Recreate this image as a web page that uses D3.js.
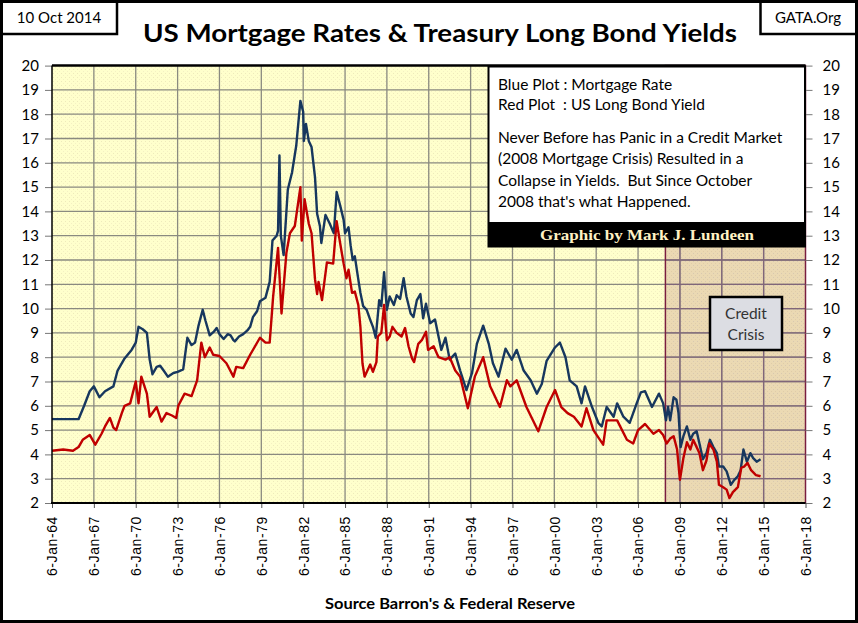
<!DOCTYPE html>
<html><head><meta charset="utf-8">
<script src="https://cdn.jsdelivr.net/npm/d3@7"></script>
<style>html,body{margin:0;padding:0;background:#fff;}svg{display:block;}</style>
</head><body><svg id="c" width="858" height="623"></svg>
<script>
const titleText = "US Mortgage Rates & Treasury Long Bond Yields";
const dateText = "10 Oct 2014";
const siteText = "GATA.Org";
const sourceText = "Source Barron's & Federal Reserve";
const legendLines1 = ["Blue Plot : Mortgage Rate", "Red Plot  : US Long Bond Yield"];
const legendLines2 = ["Never Before has Panic in a Credit Market", "(2008 Mortgage Crisis) Resulted in a", "Collapse in Yields.  But Since October", "2008 that's what Happened."];
const creditText = ["Credit", "Crisis"];
const yTicks = d3.range(2, 21, 1);
const xTickYears = d3.range(1964, 2019, 3);
const crisisStartYear = 2007.96;

const mortgageYears = [1964.0,1965.9,1966.3,1966.7,1967.0,1967.4,1967.8,1968.4,1968.7,1969.2,1969.7,1970.0,1970.2,1970.5,1970.8,1971.0,1971.2,1971.5,1971.75,1972.0,1972.3,1972.7,1973.0,1973.4,1973.7,1974.0,1974.25,1974.5,1974.8,1975.0,1975.3,1975.6,1975.8,1976.0,1976.3,1976.6,1976.8,1977.0,1977.1,1977.4,1977.7,1978.0,1978.2,1978.4,1978.7,1978.9,1979.3,1979.6,1979.8,1980.1,1980.2,1980.3,1980.4,1980.6,1980.9,1981.2,1981.5,1981.8,1982.0,1982.05,1982.2,1982.4,1982.6,1982.85,1983.0,1983.2,1983.3,1983.6,1983.9,1984.2,1984.4,
  1984.65,1984.9,1985.0,1985.25,1985.4,1985.55,1985.7,1985.95,1986.1,1986.3,1986.55,1986.8,1987.0,1987.2,1987.45,1987.6,1987.8,1988.0,1988.2,1988.5,1988.7,1988.95,1989.2,1989.4,1989.7,1989.9,1990.15,1990.4,1990.6,1990.8,1991.1,1991.45,1991.7,1991.9,1992.2,1992.5,1992.9,1993.25,
  1993.7,1994.1,1994.45,1994.9,1995.3,1995.6,1996.0,1996.5,1996.95,1997.3,1997.8,1998.3,1998.75,1999.1,1999.45,2000.05,2000.4,2000.8,2001.1,2001.6,2001.95,2002.2,2002.7,2003.15,2003.4,2003.75,2004.25,2004.5,2004.95,2005.4,2005.9,2006.2,2006.5,2007.0,
  2007.5,2007.8,2008.0,2008.15,2008.3,2008.55,2008.75,2008.9,2009.05,2009.25,2009.5,2009.75,2009.95,2010.2,2010.4,2010.65,2010.9,2011.15,2011.4,2011.65,2011.8,2012.1,2012.35,2012.65,2012.9,2013.15,2013.35,2013.55,2013.8,2014.05,2014.25,2014.5,2014.78];
const mortgageRates = [5.45,5.45,6.0,6.6,6.8,6.35,6.6,6.8,7.45,7.95,8.3,8.6,9.25,9.15,9.0,7.9,7.3,7.6,7.65,7.45,7.2,7.35,7.4,7.5,8.8,8.5,8.6,9.3,9.95,9.5,8.9,9.05,9.2,8.95,8.75,8.95,8.9,8.7,8.65,8.85,8.95,9.1,9.25,9.65,9.9,10.3,10.45,11.1,12.8,13.0,13.2,16.3,13.0,12.2,14.9,15.6,16.7,18.55,18.1,16.9,17.6,16.9,16.65,15.4,13.9,13.4,12.7,13.85,13.5,13.1,14.8,
  14.25,13.65,13.1,13.35,12.6,12.0,12.15,11.2,10.65,10.1,9.95,9.55,9.25,8.8,10.35,10.1,11.5,9.95,10.5,10.15,10.55,10.4,11.25,10.5,9.8,9.65,10.35,10.6,9.6,10.2,9.4,9.55,8.85,8.3,8.8,7.9,8.15,7.45,
  6.65,7.35,8.55,9.3,8.55,7.75,7.2,8.35,7.9,8.3,7.45,7.05,6.5,6.9,7.85,8.4,8.6,8.0,7.05,6.8,6.1,6.8,5.95,5.3,5.15,5.95,5.55,6.1,5.55,5.3,6.1,6.55,6.6,5.95,
  6.5,6.1,5.4,5.95,5.4,6.35,6.25,5.7,4.3,4.75,5.15,4.6,4.85,4.95,4.45,3.8,4.05,4.6,4.3,4.05,3.5,3.5,3.3,2.75,2.95,3.1,3.35,4.2,3.7,4.05,3.85,3.7,3.8];

const bondYears = [1964.0,1964.8,1965.5,1965.9,1966.2,1966.7,1967.1,1967.55,1967.8,1968.15,1968.4,1968.6,1969.0,1969.2,1969.6,1970.0,1970.2,1970.4,1970.8,1971.0,1971.5,1971.85,1972.2,1972.6,1972.9,1973.05,1973.5,1974.0,1974.4,1974.7,1974.95,1975.3,1975.55,1976.0,1976.5,1977.0,1977.2,1977.7,1978.2,1978.9,1979.3,1979.6,1979.85,1980.2,1980.45,1980.8,1981.05,1981.4,1981.8,1981.9,1982.1,1982.4,1982.6,1982.85,1983.0,1983.1,1983.35,1983.7,1984.15,1984.4,
  1984.65,1984.9,1985.1,1985.25,1985.5,1985.7,1985.95,1986.1,1986.25,1986.4,1986.8,1987.0,1987.25,1987.35,1987.6,1987.8,1988.0,1988.2,1988.4,1988.7,1989.05,1989.3,1989.55,1989.8,1989.95,1990.25,1990.5,1990.8,1990.95,1991.35,1991.7,1992.2,1992.5,1992.9,1993.25,
  1993.8,1994.3,1994.9,1995.4,1996.1,1996.6,1996.85,1997.3,1998.0,1998.85,1999.45,2000.05,2000.5,2000.95,2001.4,2001.95,2002.3,2002.8,2003.5,2003.75,2004.5,2005.2,2005.65,2006.0,2006.5,2007.1,
  2007.5,2007.8,2008.05,2008.3,2008.55,2008.8,2009.0,2009.25,2009.5,2009.75,2009.95,2010.2,2010.4,2010.65,2010.9,2011.1,2011.4,2011.65,2011.8,2012.1,2012.35,2012.55,2012.8,2013.15,2013.4,2013.6,2013.85,2014.1,2014.45,2014.78];
const bondYields = [4.15,4.2,4.15,4.3,4.6,4.8,4.4,4.85,5.15,5.5,5.1,5.0,5.7,6.0,6.1,7.0,6.1,7.2,6.5,5.55,5.95,5.35,5.7,5.6,5.5,6.0,6.5,6.4,7.05,8.6,8.0,8.4,8.1,8.05,7.75,7.2,7.6,7.55,8.1,8.8,8.6,8.6,10.5,12.5,9.8,12.3,13.1,13.4,15.0,12.8,14.5,13.5,13.1,11.2,10.6,11.1,10.35,11.9,11.85,13.6,
  12.7,11.85,11.25,11.6,10.65,10.7,10.15,9.25,7.75,7.2,7.7,7.4,7.8,8.85,9.0,10.15,8.7,8.85,9.25,9.0,8.85,9.2,8.45,7.95,7.8,8.55,8.7,9.05,8.3,8.45,8.0,7.9,8.0,7.45,7.2,
  5.9,7.2,8.0,6.8,5.95,7.05,6.8,7.05,5.95,4.95,5.95,6.65,5.95,5.7,5.55,5.15,5.9,5.0,4.4,5.4,5.4,4.6,4.45,5.0,5.25,4.85,
  5.0,4.8,4.45,4.65,4.75,4.2,2.95,3.85,4.5,4.2,4.6,4.3,4.05,3.35,3.75,4.45,4.2,3.7,2.75,2.65,2.55,2.2,2.45,2.65,3.45,3.5,3.65,3.35,3.15,3.1];

function toDate(y){ const yr=Math.floor(y); return new Date(yr,0,6+Math.round((y-yr)*365.25)); }

const svg = d3.select("#c");
const W=858,H=623;
const P={l:52,r:805.5,t:65.6,b:503};
const x = d3.scaleTime().domain([new Date(1964,0,6), new Date(2018,0,6)]).range([P.l,P.r]);
const y = d3.scaleLinear().domain([2,20]).range([P.b,P.t]);

const defs = svg.append("defs");
const pat1 = defs.append("pattern").attr("id","dotY").attr("width",4).attr("height",4).attr("patternUnits","userSpaceOnUse");
pat1.append("rect").attr("width",4).attr("height",4).attr("fill","#FFFFCC");
pat1.append("rect").attr("x",1).attr("y",1).attr("width",1).attr("height",1).attr("fill","#EEEABB");
pat1.append("rect").attr("x",3).attr("y",3).attr("width",1).attr("height",1).attr("fill","#F4F0C4");
const pat2 = defs.append("pattern").attr("id","dotT").attr("width",4).attr("height",4).attr("patternUnits","userSpaceOnUse");
pat2.append("rect").attr("width",4).attr("height",4).attr("fill","#EBD9B3");
pat2.append("rect").attr("x",1).attr("y",1).attr("width",1).attr("height",1).attr("fill","#D8C8B0");
pat2.append("rect").attr("x",3).attr("y",3).attr("width",1).attr("height",1).attr("fill","#E0CCA8");
const cx0 = x(toDate(crisisStartYear));
defs.append("clipPath").attr("id","crisisClip").append("rect").attr("x",cx0).attr("y",P.t).attr("width",P.r-cx0).attr("height",P.b-P.t);
defs.append("clipPath").attr("id","plotClip").append("rect").attr("x",P.l).attr("y",P.t-2).attr("width",P.r-P.l).attr("height",P.b-P.t+4);

svg.append("rect").attr("width",W).attr("height",H).attr("fill","#fff");

svg.append("rect").attr("x",P.l).attr("y",P.t).attr("width",P.r-P.l).attr("height",P.b-P.t).attr("fill","url(#dotY)");
svg.append("rect").attr("x",cx0).attr("y",P.t).attr("width",P.r-cx0).attr("height",P.b-P.t).attr("fill","url(#dotT)");

function drawGrid(g,color){
  g.selectAll(".h").data(yTicks.filter(d=>d>2&&d<20)).join("line")
    .attr("x1",P.l).attr("x2",P.r).attr("y1",d=>y(d)).attr("y2",d=>y(d))
    .attr("stroke",color).attr("stroke-width",1.3);
  g.selectAll(".v").data(xTickYears.filter(d=>d>1964&&d<2018)).join("line")
    .attr("x1",d=>x(new Date(d,0,6))).attr("x2",d=>x(new Date(d,0,6)))
    .attr("y1",P.t).attr("y2",P.b).attr("stroke",color).attr("stroke-width",1.3);
}
drawGrid(svg.append("g"),"#8A8A80");
drawGrid(svg.append("g").attr("clip-path","url(#crisisClip)"),"#80667A");
svg.append("rect").attr("x",cx0).attr("y",P.t).attr("width",P.r-cx0).attr("height",P.b-P.t)
  .attr("fill","none").attr("stroke","#7A1E40").attr("stroke-width",1.5);

const line = d3.line().x(d=>x(toDate(d[0]))).y(d=>y(d[1]));
const mData = mortgageYears.map((t,i)=>[t,mortgageRates[i]]);
const bData = bondYears.map((t,i)=>[t,bondYields[i]]);
const lg = svg.append("g").attr("clip-path","url(#plotClip)");
lg.append("path").datum(mData).attr("d",line).attr("fill","none").attr("stroke","#17375E").attr("stroke-width",2.4).attr("stroke-linejoin","round");
lg.append("path").datum(bData).attr("d",line).attr("fill","none").attr("stroke","#C00000").attr("stroke-width",2.4).attr("stroke-linejoin","round");

const font="Lato, 'Open Sans', sans-serif";
const yl = svg.append("g").attr("transform",`translate(${P.l},0)`).call(d3.axisLeft(y).tickValues(yTicks).tickSize(7).tickPadding(6).tickFormat(d3.format("d")));
const yr = svg.append("g").attr("transform",`translate(${P.r},0)`).call(d3.axisRight(y).tickValues(yTicks).tickSize(7).tickPadding(10).tickFormat(d3.format("d")));
[yl,yr].forEach(g=>{
  g.select(".domain").remove();
  g.selectAll(".tick line").attr("stroke","#777").attr("stroke-width",1);
  g.selectAll(".tick text").attr("font-family",font).attr("font-size",15).attr("fill","#000");
});
const xa = svg.append("g").attr("transform",`translate(0,${P.b})`).call(d3.axisBottom(x).tickValues(xTickYears.map(d=>new Date(d,0,6))).tickSize(5).tickFormat(d3.timeFormat("%-d-%b-%y")));
xa.select(".domain").remove();
xa.selectAll(".tick line").attr("stroke","#555");
xa.selectAll(".tick text").attr("font-family","'Liberation Sans', Arial, sans-serif").attr("font-size",14).attr("letter-spacing","0.6px").attr("fill","#000")
  .attr("transform","rotate(-90)").attr("text-anchor","end").attr("dx","-13").attr("dy","0.35em").attr("x",0).attr("y",0);

svg.append("line").attr("x1",P.l).attr("x2",P.r).attr("y1",P.t).attr("y2",P.t).attr("stroke","#000").attr("stroke-width",2.5);
svg.append("line").attr("x1",P.l).attr("x2",P.l).attr("y1",P.t).attr("y2",P.b).attr("stroke","#000").attr("stroke-width",1.5);
svg.append("line").attr("x1",P.l-1).attr("x2",P.r).attr("y1",P.b).attr("y2",P.b).attr("stroke","#000").attr("stroke-width",2);

const lb = svg.append("g");
lb.append("rect").attr("x",488.5).attr("y",66.5).attr("width",316.5).attr("height",180).attr("fill","#fff").attr("stroke","#000").attr("stroke-width",2);
lb.append("rect").attr("x",488.5).attr("y",222).attr("width",316.5).attr("height",25).attr("fill","#000");
legendLines1.forEach((t,i)=>lb.append("text").attr("x",498).attr("y",89.5+i*20.8).attr("font-family",font).attr("font-size",15.5).attr("fill","#000").attr("xml:space","preserve").style("white-space","pre").text(t));
legendLines2.forEach((t,i)=>lb.append("text").attr("x",498).attr("y",143+i*21.3).attr("font-family",font).attr("font-size",15.5).attr("fill","#000").attr("xml:space","preserve").style("white-space","pre").text(t));
lb.append("text").attr("x",647).attr("y",240).attr("text-anchor","middle").attr("font-family","'Liberation Serif','DejaVu Serif',serif").attr("font-weight","bold").attr("font-size",15).attr("fill","#FFF2C4").attr("textLength",214).attr("lengthAdjust","spacingAndGlyphs").text("Graphic by Mark J. Lundeen");

svg.append("rect").attr("x",710).attr("y",297).attr("width",72).attr("height",53).attr("fill","#DCDDE3").attr("stroke","#000").attr("stroke-width",2.5);
creditText.forEach((t,i)=>svg.append("text").attr("x",746).attr("y",318.5+i*21).attr("text-anchor","middle").attr("font-family",font).attr("font-size",15.5).attr("fill","#333").text(t));

svg.append("text").attr("x",440).attr("y",42).attr("text-anchor","middle").attr("font-family",font).attr("font-weight","bold").attr("font-size",24.5).attr("fill","#000").attr("textLength",594).attr("lengthAdjust","spacingAndGlyphs").text(titleText);
svg.append("rect").attr("x",1.5).attr("y",1.5).attr("width",115.5).attr("height",32.5).attr("fill","#fff").attr("stroke","#000").attr("stroke-width",2.5);
svg.append("text").attr("x",59).attr("y",23).attr("text-anchor","middle").attr("font-family",font).attr("font-size",15).attr("fill","#000").text(dateText);
svg.append("rect").attr("x",760.5).attr("y",1.5).attr("width",96).attr("height",32.5).attr("fill","#fff").attr("stroke","#000").attr("stroke-width",2.5);
svg.append("text").attr("x",808).attr("y",23).attr("text-anchor","middle").attr("font-family",font).attr("font-size",15).attr("fill","#000").text(siteText);

svg.append("text").attr("x",450).attr("y",609).attr("text-anchor","middle").attr("font-family",font).attr("font-weight","bold").attr("font-size",16).attr("fill","#000").attr("textLength",250).attr("lengthAdjust","spacingAndGlyphs").text(sourceText);

svg.append("rect").attr("x",1.5).attr("y",1.5).attr("width",W-3).attr("height",H-3).attr("fill","none").attr("stroke","#000").attr("stroke-width",3);
</script></body></html>
